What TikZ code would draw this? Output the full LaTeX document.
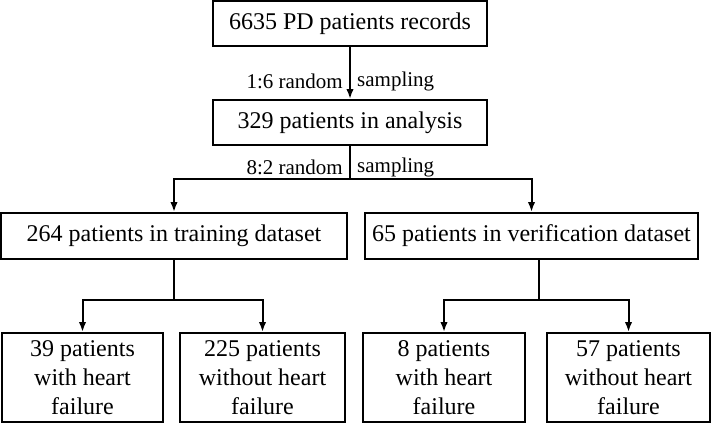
\documentclass[tikz,border=0pt]{standalone}
\usepackage{fontspec}
\setmainfont{Liberation Serif}
\usepackage{tikz}
\usetikzlibrary{shapes,arrows,arrows.meta,positioning,calc}

\tikzset{
  box/.style={draw, line width=2pt, inner sep=0pt, align=center,
              font=\rmfamily\fontsize{24}{29}\selectfont},
  arr/.style={line width=2pt, -{Latex[length=10pt,width=7.5pt]}},
  conn/.style={line width=2pt},
  lab/.style={inner sep=0pt, font=\rmfamily\fontsize{21}{25}\selectfont}
}

\begin{document}
\begin{tikzpicture}[x=1pt,y=-1pt]
  \useasboundingbox (0,0) rectangle (711,423);
  % top of the chart
  \node[box, minimum width=274pt, minimum height=45pt] (records) at (350,23.5) {6635 PD patients records};
  \node[box, minimum width=274pt, minimum height=45pt] (analysis) at (350,122.5) {329 patients in analysis};
  \draw[arr] (records) -- (analysis);
  \node[lab, anchor=east] (lab1a) at (343,81) {1:6 random};
  \node[lab, anchor=west] (lab1b) at (357,81) {sampling};

  % training / verification split
  \node[box, minimum width=346pt, minimum height=46pt] (train) at (174,236) {264 patients in training dataset};
  \node[box, minimum width=333pt, minimum height=46pt] (verif) at (531.5,236) {65 patients in verification dataset};
  \coordinate (split1) at (350,179);
  \draw[conn] (analysis.south) -- (split1);
  \draw[arr] (split1) -| (train.north);
  \draw[arr] (split1) -| (verif.north);
  \node[lab, anchor=east] (lab2a) at (343,167) {8:2 random};
  \node[lab, anchor=west] (lab2b) at (357,167) {sampling};

  % outcome boxes
  \node[box, minimum width=161pt, minimum height=89pt] (trainhf) at (82.5,377.5) {39 patients\\with heart\\failure};
  \node[box, minimum width=165pt, minimum height=89pt] (trainno) at (262.5,377.5) {225 patients\\without heart\\failure};
  \node[box, minimum width=162pt, minimum height=89pt] (verifhf) at (444,377.5) {8 patients\\with heart\\failure};
  \node[box, minimum width=163pt, minimum height=89pt] (verifno) at (628.5,377.5) {57 patients\\without heart\\failure};

  \coordinate (split2) at (174,300);
  \draw[conn] (train.south) -- (split2);
  \draw[arr] (split2) -| (trainhf.north);
  \draw[arr] (split2) -| (trainno.north);

  \coordinate (split3) at (539,300);
  \draw[conn] (split3 |- verif.south) -- (split3);
  \draw[arr] (split3) -| (verifhf.north);
  \draw[arr] (split3) -| (verifno.north);
\end{tikzpicture}
\end{document}
